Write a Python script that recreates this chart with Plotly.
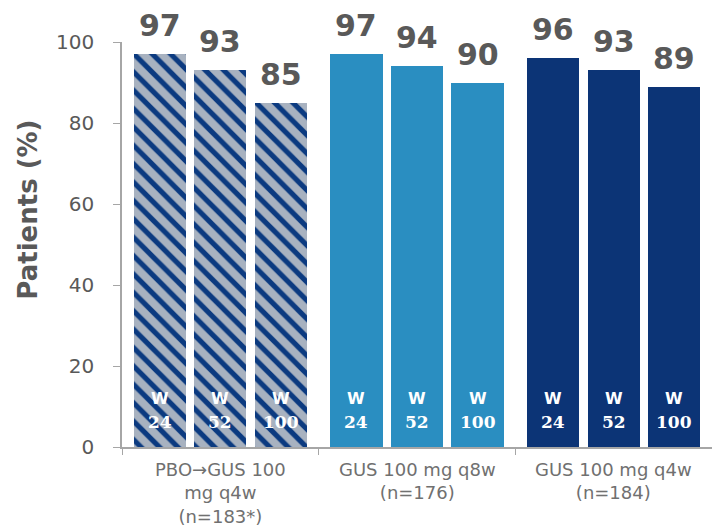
import plotly.graph_objects as go

# data
groups = ['PBO\u2192GUS 100<br>mg q4w<br>(n=183*)',
          'GUS 100 mg q8w<br>(n=176)',
          'GUS 100 mg q4w<br>(n=184)']
weeks = ['24', '52', '100']
values = [[97, 93, 85], [97, 94, 90], [96, 93, 89]]
y_ticks = [0, 20, 40, 60, 80, 100]

colors = ['#a8b2c0', '#2a8ec1', '#0c3476']
GAP = 3.25  # group spacing in bar units
GREY = '#595959'

fig = go.Figure()
annotations = []
for g, vals in enumerate(values):
    xs = [g * GAP + i for i in range(len(weeks))]
    pattern = dict(shape='\\', fgcolor='#0b3a80', bgcolor='#a8b2c0',
                   size=13, solidity=0.4, fillmode='replace') if g == 0 else dict(shape='')
    fig.add_trace(go.Bar(
        x=xs, y=vals, width=0.86,
        marker=dict(color=colors[g], pattern=pattern, line=dict(width=0)),
        hoverinfo='skip', showlegend=False,
    ))
    for x, v, w in zip(xs, vals, weeks):
        # value on top
        annotations.append(dict(x=x, y=v, text=f'<b>{v}</b>', showarrow=False,
                                yanchor='bottom', yshift=9,
                                font=dict(size=30, color=GREY, family='DejaVu Sans')))
        # "W" + week inside the bar
        annotations.append(dict(x=x, y=0, text='<b>W</b>', showarrow=False,
                                yanchor='middle', yshift=49,
                                font=dict(size=16, color='white', family='DejaVu Sans')))
        annotations.append(dict(x=x, y=0, text=f'<b>{w}</b>', showarrow=False,
                                yanchor='middle', yshift=25,
                                font=dict(size=17, color='white', family='DejaVu Serif')))
    annotations.append(dict(x=g * GAP + 1, y=0, text=groups[g], showarrow=False,
                            yanchor='top', yshift=-10, align='center',
                            font=dict(size=18, color='#707070', family='DejaVu Sans')))

# y title placed a bit above the plot centre, like the original
annotations.append(dict(x=-0.16, y=0.585, xref='paper', yref='paper', text='<b>Patients (%)</b>',
                        textangle=-90, showarrow=False, xanchor='center', yanchor='middle',
                        font=dict(size=26, color=GREY, family='DejaVu Sans')))

bounds = [g * GAP - (GAP - 2) / 2 for g in range(len(values) + 1)]

fig.update_layout(
    width=712, height=527,
    margin=dict(l=122, r=0, t=42, b=80),
    plot_bgcolor='white', paper_bgcolor='white',
    annotations=annotations,
    bargap=0,
    xaxis=dict(range=[bounds[0], bounds[-1]], tickvals=bounds, ticktext=['' for _ in bounds],
               ticks='outside', ticklen=6, tickcolor='#a6a6a6', showline=True,
               linecolor='#a6a6a6', linewidth=1.5, showgrid=False, zeroline=False,
               automargin=False),
    yaxis=dict(range=[0, 100], tickvals=y_ticks, ticks='outside', ticklen=7,
               tickcolor='#a6a6a6', showline=True, linecolor='#a6a6a6', linewidth=1.5,
               showgrid=False, zeroline=False, automargin=False, ticklabelstandoff=15,
               tickfont=dict(size=20, color=GREY, family='DejaVu Sans')),
)

fig.write_html('out.html', config={'displayModeBar': False},
               post_script="document.body.style.margin='0';")
